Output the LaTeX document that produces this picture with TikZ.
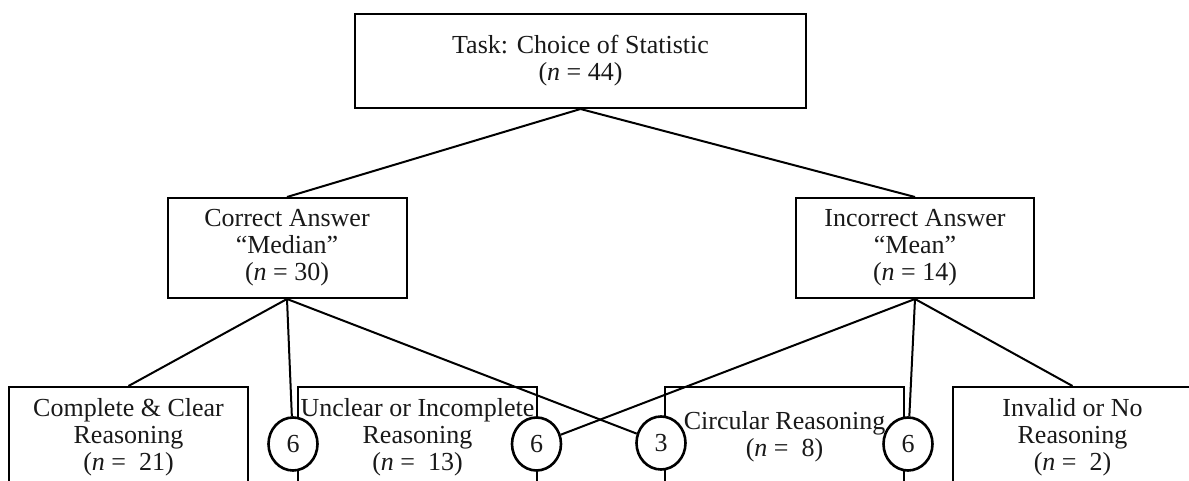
\documentclass[tikz,border=0pt]{standalone}
\usepackage{fontspec}
\setmainfont{Liberation Serif}
\usetikzlibrary{shapes.geometric}
\begin{document}
\begin{tikzpicture}[x=1pt,y=-1pt,
  box/.style={draw, line width=2pt, minimum width=239pt, minimum height=100pt,
    align=center, inner sep=0pt, text=black!90, font=\fontsize{26}{27}\selectfont},
  numcirc/.style={ellipse, draw, fill=white, line width=2.6pt, minimum width=49pt,
    minimum height=53pt, inner sep=0pt, text=black!90, font=\fontsize{26}{27}\selectfont},
  link/.style={line width=2pt}]
\useasboundingbox (0,0) rectangle (1189,481);
\clip (0,0) rectangle (1189,481);
% top level
\node[box, minimum width=451pt, minimum height=94pt] (task) at (580.5,61)
  {Task: Choice of Statistic\\(\textit{n} = 44)};
\node[box] (correct) at (287,248)
  {Correct Answer\\``Median''\\(\textit{n} = 30)};
\node[box, minimum width=238pt] (incorrect) at (915,248)
  {Incorrect Answer\\``Mean''\\(\textit{n} = 14)};
% bottom level
\node[box] (complete) at (128.5,437)
  {Complete \& Clear\\Reasoning\\(\textit{n} =\ \ 21)};
\node[box] (unclear) at (417.5,437)
  {Unclear or Incomplete\\Reasoning\\(\textit{n} =\ \ 13)};
\node[box] (circular) at (784.5,437)
  {Circular Reasoning\\(\textit{n} =\ \ 8)};
\node[box] (invalid) at (1072.5,437)
  {Invalid or No\\Reasoning\\(\textit{n} =\ \ 2)};
% connectors
\draw[link] (task.south) -- (correct.north);
\draw[link] (task.south) -- (incorrect.north);
\draw[link] (correct.south) -- (complete.north);
\draw[link] (incorrect.south) -- (invalid.north);
% count circles
\node[numcirc] (c1) at (293,444) {6};
\node[numcirc] (c2) at (536.5,444) {6};
\node[numcirc] (c3) at (661,443) {3};
\node[numcirc] (c4) at (908,444) {6};
\draw[link] (correct.south) -- (c1);
\draw[link] (correct.south) -- (c3);
\draw[link] (incorrect.south) -- (c2);
\draw[link] (incorrect.south) -- (c4);
\end{tikzpicture}
\end{document}
